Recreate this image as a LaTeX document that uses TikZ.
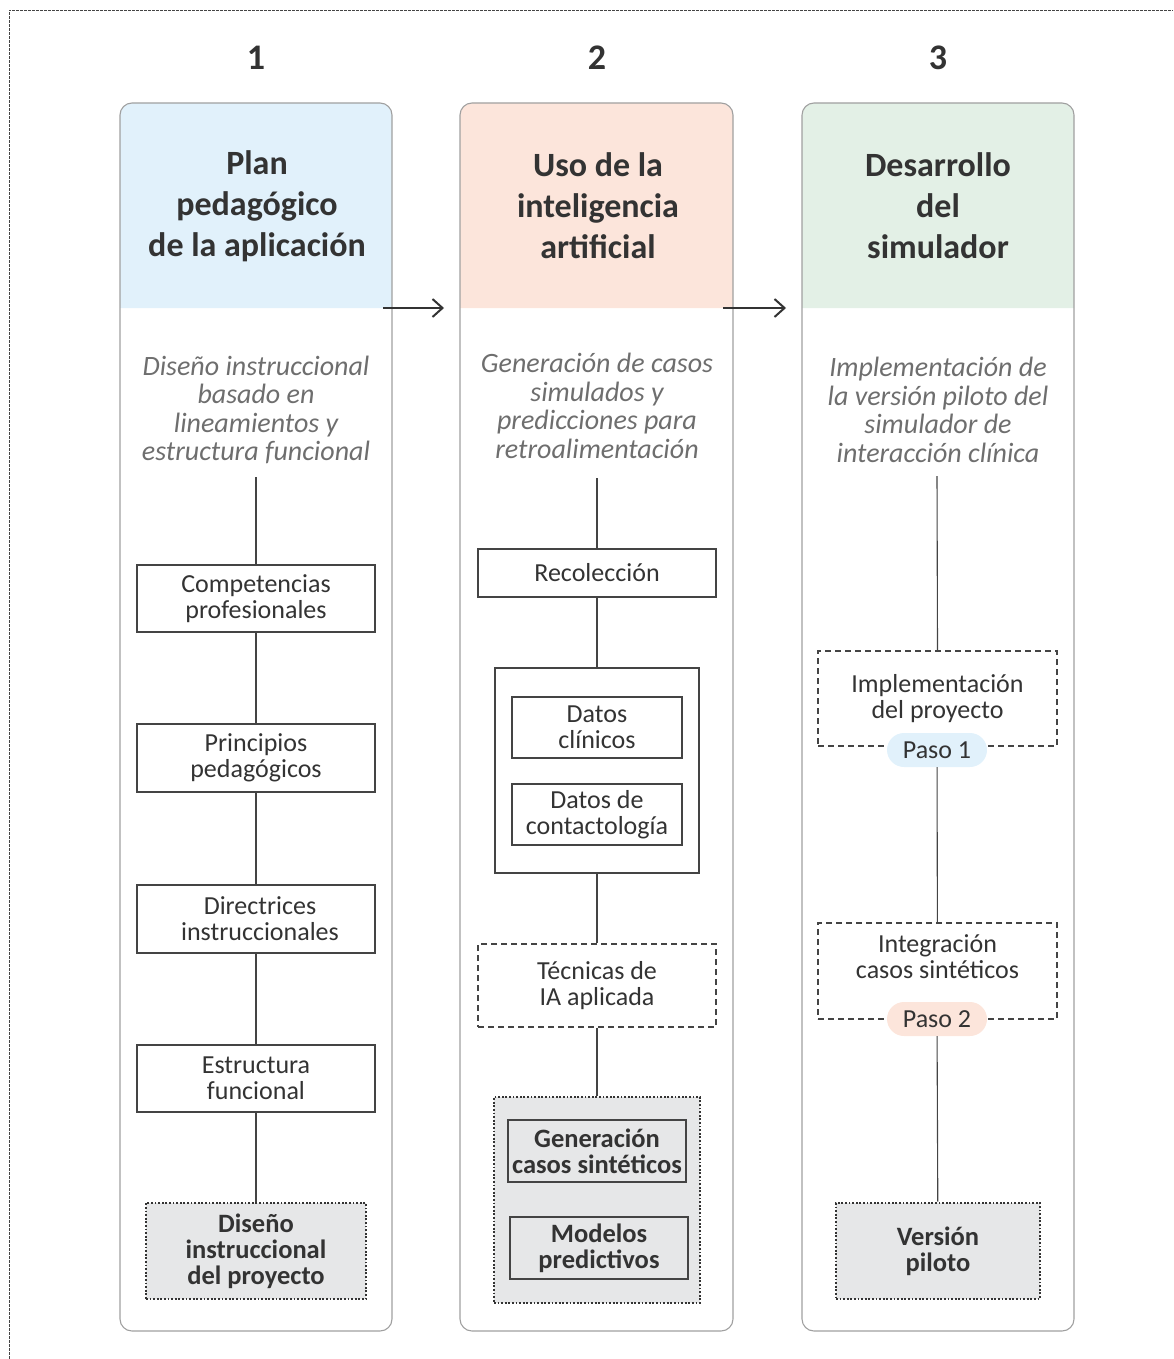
\documentclass[tikz,border=0pt]{standalone}
\usepackage{fontspec}
\setmainfont{Carlito}
\usetikzlibrary{arrows.meta}
\definecolor{txt}{HTML}{333333}
\definecolor{subtxt}{HTML}{6E6E6E}
\definecolor{colborder}{HTML}{A0A0A0}
\definecolor{hblue}{HTML}{E1F1FB}
\definecolor{hsalmon}{HTML}{FCE5DB}
\definecolor{hgreen}{HTML}{E3F0E6}
\definecolor{grayfill}{HTML}{E6E7E8}
\definecolor{linec}{HTML}{444444}
\definecolor{dotc}{HTML}{333333}
\begin{document}
\begin{tikzpicture}[x=1pt,y=-1pt,
  every node/.style={text=txt},
  numlbl/.style={font=\fontsize{36}{36}\selectfont\bfseries},
  headtxt/.style={font=\fontsize{34}{41}\selectfont\bfseries, align=center},
  subtitle/.style={font=\fontsize{28}{28.5}\selectfont\itshape, text=subtxt, align=center},
  stepbox/.style={draw=linec, line width=1.1pt, align=center, inner sep=0pt,
     font=\fontsize{26}{26}\selectfont},
  dashbox/.style={stepbox, dash pattern=on 6pt off 4pt},
  dotbox/.style={draw=dotc, line width=2.6pt, dash pattern=on 1.8pt off 1.8pt, fill=grayfill,
     align=center, inner sep=0pt, font=\fontsize{26.5}{26}\selectfont\bfseries},
  boldbox/.style={stepbox, font=\fontsize{26.5}{26}\selectfont\bfseries},
  pill/.style={rounded corners=17pt, minimum width=100pt, minimum height=34pt, inner sep=0pt,
     font=\fontsize{26}{26}\selectfont},
  conn/.style={draw=linec, line width=1.1pt},
  arr/.style={draw=dotc, line width=2pt, -{Straight Barb[length=10pt,width=18pt]}}
]
\useasboundingbox (0,0) rectangle (1173,1359);
\draw[linec, line width=0.9pt, dash pattern=on 3pt off 1pt] (9,1359) -- (9,10) -- (1173,10);

% column backgrounds
\fill[hblue] (120,308) [rounded corners=12pt] -- (120,103) -- (392,103) [sharp corners] -- (392,308) -- cycle;
\fill[hsalmon] (460,308) [rounded corners=12pt] -- (460,103) -- (733,103) [sharp corners] -- (733,308) -- cycle;
\fill[hgreen] (802,308) [rounded corners=12pt] -- (802,103) -- (1074,103) [sharp corners] -- (1074,308) -- cycle;
\draw[colborder, line width=1.1pt, rounded corners=12pt] (120,103) rectangle (392,1331);
\draw[colborder, line width=1.1pt, rounded corners=12pt] (460,103) rectangle (733,1331);
\draw[colborder, line width=1.1pt, rounded corners=12pt] (802,103) rectangle (1074,1331);

% numbers
\node[numlbl] (n1) at (256,58) {1};
\node[numlbl] (n2) at (597,58) {2};
\node[numlbl] (n3) at (938,58) {3};

% headers
\node[headtxt] (h1) at (257,206) {Plan\\pedagógico\\de la aplicación};
\node[headtxt] (h2) at (598,206) {Uso de la\\inteligencia\\artificial};
\node[headtxt] (h3) at (938,206) {Desarrollo\\del\\simulador};

% arrows
\coordinate (a1s) at (383,308); \coordinate (a1e) at (444,308);
\coordinate (a2s) at (723,308); \coordinate (a2e) at (786,308);
\draw[arr] (a1s) -- (a1e);
\draw[arr] (a2s) -- (a2e);

% subtitles
\node[subtitle] (s1) at (256,410) {Diseño instruccional\\basado en\\lineamientos y\\estructura funcional};
\node[subtitle] (s2) at (597,406) {Generación de casos\\simulados y\\predicciones para\\retroalimentación};
\node[subtitle] (s3) at (938,410) {Implementación de\\la versión piloto del\\simulador de\\interacción clínica};
\coordinate (s1b) at (256,477);
\coordinate (s2b) at (597,478);
\coordinate (s3b) at (937,476);

% column 1
\node[stepbox, minimum width=238pt, minimum height=67pt] (c1a) at (256,598.5) {Competencias\\profesionales};
\node[stepbox, minimum width=238pt, minimum height=68pt] (c1b) at (256,758) {Principios\\pedagógicos};
\node[stepbox, minimum width=238pt, minimum height=68pt] (c1c) at (256,919) {\hspace*{8pt}Directrices\\\hspace*{8pt}instruccionales};
\node[stepbox, minimum width=238pt, minimum height=67pt] (c1d) at (256,1078.5) {Estructura\\funcional};
\node[dotbox, minimum width=220pt, minimum height=96pt] (c1e) at (256,1251) {Diseño\\instruccional\\del proyecto};
\draw[conn] (s1b) -- (c1a.north);
\draw[conn] (c1a) -- (c1b);
\draw[conn] (c1b) -- (c1c);
\draw[conn] (c1c) -- (c1d);
\draw[conn] (c1d) -- (c1e);

% column 2
\node[stepbox, minimum width=238pt, minimum height=48pt] (c2a) at (597,573) {Recolección};
\node[draw=linec, line width=1.1pt, minimum width=204pt, minimum height=205pt, inner sep=0pt] (c2b) at (597,770.5) {};
\node[stepbox, minimum width=170pt, minimum height=61pt] (c2b1) at (597,727.5) {Datos\\clínicos};
\node[stepbox, minimum width=170pt, minimum height=61pt] (c2b2) at (597,814.5) {Datos de\\contactología};
\node[dashbox, minimum width=238pt, minimum height=83pt] (c2c) at (597,985.5) {Técnicas de\\IA aplicada};
\node[dotbox, minimum width=206pt, minimum height=206pt] (c2d) at (597,1200) {};
\node[boldbox, minimum width=178pt, minimum height=62pt] (c2d1) at (597,1151) {Generación\\casos sintéticos};
\node[boldbox, minimum width=178pt, minimum height=62pt] (c2d2) at (599,1248) {Modelos\\predictivos};
\draw[conn] (s2b) -- (c2a.north);
\draw[conn] (c2a) -- (c2b);
\draw[conn] (c2b) -- (c2c);
\draw[conn] (c2c) -- (c2d);

% column 3
\node[dashbox, minimum width=239pt, minimum height=95pt] (c3a) at (937.5,698.5) {Implementación\\del proyecto};
\node[pill, fill=hblue] (p1) at (937,750) {Paso 1};
\node[dashbox, minimum width=239pt, minimum height=96pt] (c3b) at (937.5,971) {Integración\\casos sintéticos\\[2pt]};
\node[pill, fill=hsalmon] (p2) at (937,1019) {Paso 2};
\node[dotbox, minimum width=204pt, minimum height=96pt] (c3c) at (938,1251) {Versión\\piloto};
\draw[conn] (s3b) -- (c3a.north);
\draw[conn] (p1) -- (c3b);
\draw[conn] (p2) -- (c3c);
\end{tikzpicture}
\end{document}
